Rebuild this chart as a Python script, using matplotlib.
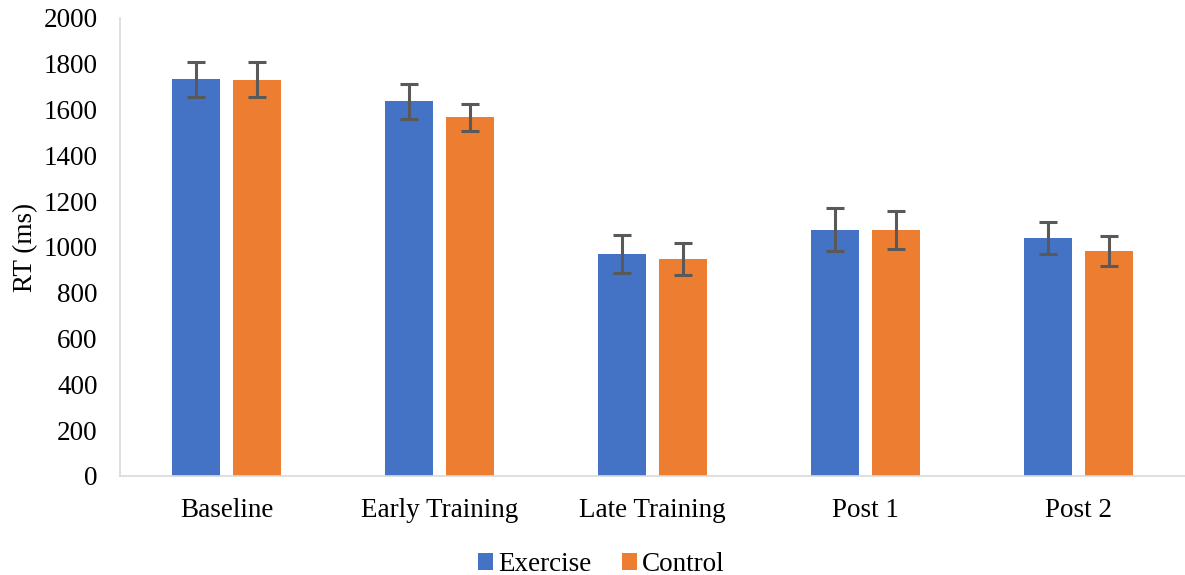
import numpy as np
import matplotlib
matplotlib.use("Agg")
import matplotlib.pyplot as plt

# values
categories = ["Baseline", "Early Training", "Late Training", "Post 1", "Post 2"]
exercise = [1732, 1636, 969, 1076, 1039]
exercise_err = [77, 77, 82, 95, 70]
control = [1730, 1566, 946, 1076, 981]
control_err = [77, 58, 70, 83, 65]

plt.rcParams['font.family'] = ['Liberation Serif', 'DejaVu Serif']
fs = 19.5

fig = plt.figure(figsize=(11.85, 5.75), dpi=100)
ax = fig.add_axes([0.1013, 0.1722, 0.8987, 0.7965])

x = np.arange(len(categories))
w = 0.225
off = 0.143
err_kw = dict(ecolor="#595959", elinewidth=2.2, capsize=6.5, capthick=2.2)

ax.bar(x - off, exercise, w, yerr=exercise_err, color="#4472C4",
       label="Exercise", error_kw=err_kw, zorder=2)
ax.bar(x + off, control, w, yerr=control_err, color="#ED7D31",
       label="Control", error_kw=err_kw, zorder=2)

ax.set_xlim(-0.5, len(categories) - 0.5)
ax.set_ylim(0, 2000)
ax.set_yticks(range(0, 2001, 200))
ax.set_xticks(x)
ax.set_xticklabels(categories)
ax.tick_params(axis="both", length=0, labelsize=fs, colors="black")
ax.tick_params(axis="x", pad=16)
ax.tick_params(axis="y", pad=16)
ax.set_ylabel("RT (ms)", fontsize=fs, labelpad=4)

for s in ["top", "right"]:
    ax.spines[s].set_visible(False)
for s in ["left", "bottom"]:
    ax.spines[s].set_color("#D9D9D9")
    ax.spines[s].set_linewidth(1.2)

fig.legend(loc="lower center", bbox_to_anchor=(0.5076, -0.046), ncol=2,
           frameon=False, fontsize=fs, handlelength=0.55, handleheight=0.55,
           handletextpad=0.2, columnspacing=1.1)

fig.savefig("out.png", dpi=100)
